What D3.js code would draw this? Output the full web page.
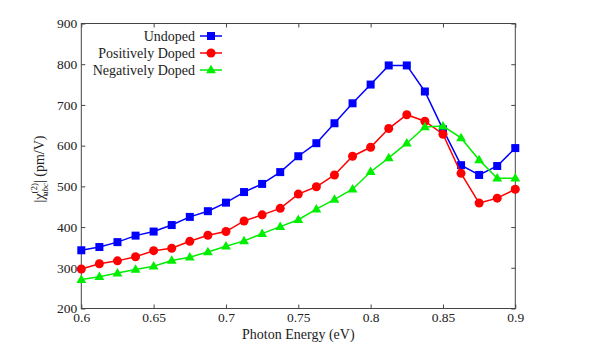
<!DOCTYPE html>
<html><head><meta charset="utf-8">
<script src="https://cdn.jsdelivr.net/npm/d3@7"></script>
<style>body{margin:0;background:#fff}</style>
</head><body><svg id="c" width="590" height="356"></svg>
<script>
const energies = [0.6,0.6125,0.625,0.6375,0.65,0.6625,0.675,0.6875,0.7,0.7125,0.725,0.7375,0.75,0.7625,0.775,0.7875,0.8,0.8125,0.825,0.8375,0.85,0.8625,0.875,0.8875,0.9];
const undoped = [343,351,363,379,389,405,425,439,460,486,506,535,574,606,655,704,750,797,797,733,640,552,528,550,594];
const positive = [297,310,317,327,342,348,365,380,389,415,430,446,481,499,528,574,596,642,676,660,628,532,459,471,493];
const negative = [271,278,287,296,304,318,326,339,353,366,384,401,418,444,468,493,536,570,606,646,648,619,565,520,520];
const seriesNames = ["Undoped","Positively Doped","Negatively Doped"];
const colors = ["#0000ff","#ff0000","#00ee00"];
const xTicks = [0.6,0.65,0.7,0.75,0.8,0.85,0.9];
const yTicks = [200,300,400,500,600,700,800,900];

const FF = "'Liberation Serif', 'DejaVu Serif', serif";
const svg = d3.select("#c");
const L=81.3,R=515.3,T=23.5,B=308.5;
const x = d3.scaleLinear().domain([0.6,0.9]).range([L,R]);
const y = d3.scaleLinear().domain([200,900]).range([B,T]);
const axc="#444";
svg.append("rect").attr("x",L).attr("y",T).attr("width",R-L).attr("height",B-T).attr("fill","none").attr("stroke",axc).attr("stroke-width",1);
const fmt = d=>String(d);
const gx = svg.append("g").attr("transform",`translate(0,${B})`).call(d3.axisBottom(x).tickValues(xTicks).tickFormat(fmt).tickSizeInner(-4).tickSizeOuter(0).tickPadding(4));
const gxt = svg.append("g").attr("transform",`translate(0,${T})`).call(d3.axisTop(x).tickValues(xTicks).tickFormat("").tickSizeInner(-4).tickSizeOuter(0));
const gy = svg.append("g").attr("transform",`translate(${L},0)`).call(d3.axisLeft(y).tickValues(yTicks).tickFormat(fmt).tickSizeInner(-4).tickSizeOuter(0).tickPadding(4));
const gyr = svg.append("g").attr("transform",`translate(${R},0)`).call(d3.axisRight(y).tickValues(yTicks).tickFormat("").tickSizeInner(-4).tickSizeOuter(0));
[gx,gxt,gy,gyr].forEach(g=>{g.attr("font-family",null).attr("font-size",null);g.select(".domain").remove();g.selectAll("line").attr("stroke",axc);g.selectAll("text").style("font-size","13.5px").style("fill","#222").style("font-family",FF);});

svg.append("text").attr("x",(L+R)/2).attr("y",339).attr("text-anchor","middle").style("font-family",FF).style("font-size","14px").style("fill","#222").text("Photon Energy (eV)");
const yl = svg.append("text").attr("transform",`translate(44,${(T+B)/2+3}) rotate(-90)`).attr("text-anchor","middle").style("font-family",FF).style("font-size","14px").style("fill","#222");
yl.append("tspan").text("|χ");
yl.append("tspan").style("font-size","9px").attr("dy",-7).text("(2)");
yl.append("tspan").style("font-size","9px").attr("dx",-13).attr("dy",11).style("font-style","italic").text("abc");
yl.append("tspan").attr("dy",-4).text("| (pm/V)");

const data=[undoped,positive,negative];
const line = d3.line().x((d,i)=>x(energies[i])).y(d=>y(d));
function marker(g,k,cx,cy,c){
  if(k===0) g.append("rect").attr("x",cx-4).attr("y",cy-4).attr("width",8).attr("height",8).attr("fill",c);
  else if(k===1) g.append("circle").attr("cx",cx).attr("cy",cy).attr("r",4.5).attr("fill",c);
  else g.append("path").attr("d",d3.symbol(d3.symbolTriangle,42)()).attr("transform",`translate(${cx},${cy+0.5})`).attr("fill",c);
}
data.forEach((s,k)=>{
  const g=svg.append("g");
  g.append("path").datum(s).attr("d",line).attr("fill","none").attr("stroke",colors[k]).attr("stroke-width",1.5);
  s.forEach((v,i)=>marker(g,k,x(energies[i]),y(v),colors[k]));
});
seriesNames.forEach((n,k)=>{
  const ly=36+k*17;
  svg.append("text").attr("x",195).attr("y",ly+4.5).attr("text-anchor","end").style("font-family",FF).style("font-size","14px").style("fill","#222").text(n);
  svg.append("line").attr("x1",200).attr("x2",222).attr("y1",ly).attr("y2",ly).attr("stroke",colors[k]).attr("stroke-width",1.5);
  marker(svg,k,211,ly,colors[k]);
});
</script></body></html>
